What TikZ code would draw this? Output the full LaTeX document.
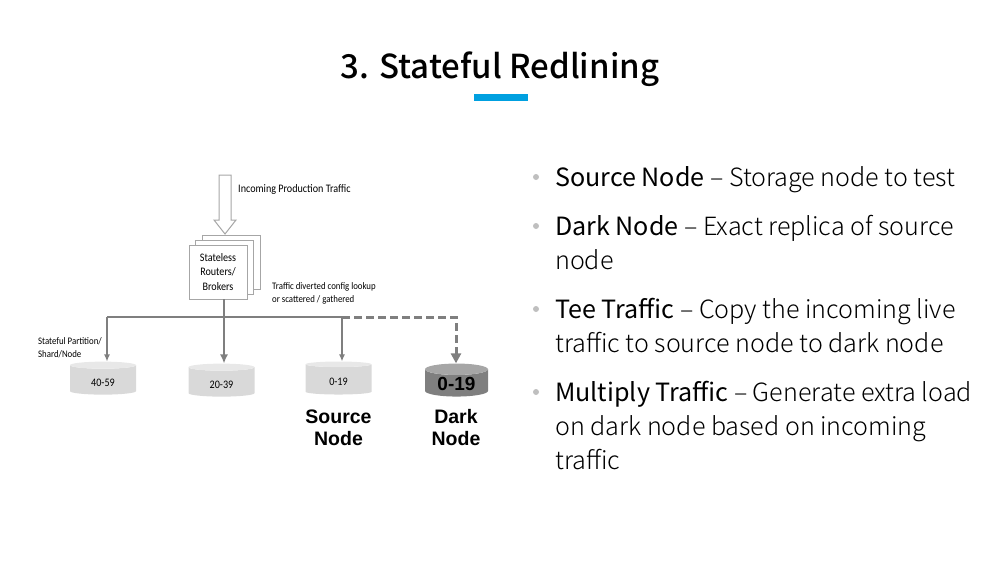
\documentclass[tikz,border=0pt]{standalone}
\usepackage{fontspec}
\usetikzlibrary{shapes.geometric,arrows.meta}
\setmainfont{Noto Sans CJK SC}
\newfontfamily\titlefont{Noto Sans CJK SC}[UprightFont=* Medium]
\newfontfamily\smallfont{Carlito}[FakeStretch=0.88]
\newfontfamily\labelfont{Liberation Sans}
\newfontfamily\bodyfont{Noto Sans CJK SC}[UprightFont=* Light]
\newcommand{\disklabel}[2][-6pt]{\raisebox{#1}[0pt][0pt]{#2}}
\definecolor{linegray}{HTML}{7F7F7F}
\definecolor{titleblue}{HTML}{00A0E0}
\definecolor{diskbody}{HTML}{D9D9D9}
\definecolor{disktop}{HTML}{E8E8E8}
\tikzset{
	box/.style={draw=gray!70, fill=white, minimum width=58, minimum height=54, inner sep=0, align=center, font=\smallfont\fontsize{11.5}{14.5}\selectfont},
	disk/.style={cylinder, shape border rotate=90, aspect=0.3, cylinder uses custom fill, minimum width=66, minimum height=33, inner sep=0, font=\smallfont\fontsize{11.5}{14}\selectfont},
	lightdisk/.style={disk, cylinder body fill=diskbody, cylinder end fill=disktop},
	note/.style={anchor=west, inner sep=0, align=left, font=\smallfont\fontsize{10}{13}\selectfont},
	caption/.style={align=center, inner sep=0, font=\labelfont\bfseries\fontsize{19.5}{22}\selectfont},
	bullet/.style={circle, fill=gray!50, minimum size=6, inner sep=0},
	item/.style={anchor=north west, inner sep=0, align=left, font=\bodyfont\fontsize{25.1}{34}\selectfont},
	flow/.style={draw=linegray, line width=1.2, -{Latex[length=7,width=6]}},
}
\begin{document}
\begin{tikzpicture}[x=1pt, y=-1pt]
	\useasboundingbox (0,0) rectangle (1000,563);
	% title
	\node[font=\titlefont\fontsize{33}{38}\selectfont, inner sep=0] (title) at (500,69) {3. Stateful Redlining};
	\fill[titleblue] (474,94) rectangle (527.5,101);
	% incoming arrow
	\filldraw[draw=gray!70, fill=white, line width=1] (219,175) -- (231,175) -- (231,220) -- (236,220) -- (225,234) -- (214,220) -- (219,220) -- cycle;
	\node[note, font=\smallfont\fontsize{11.5}{14}\selectfont] (incoming) at (238,189) {Incoming Production Traffic};
	% routers
	\node[box] (back) at (231,262.5) {};
	\node[box] (middle) at (224.5,267) {};
	\node[box] (router) at (218,272) {Stateless\\Routers/\\Brokers};
	\node[note] at (272,293.5) (diverted) {Traffic diverted config lookup\\or scattered / gathered};
	\node[note] (stateful) at (38,347.5) {Stateful Partition/\\Shard/Node};
	% partitions
	\node[lightdisk] (p1) at (103,380) {\disklabel{40-59}};
	\node[lightdisk] (p2) at (221.5,382) {\disklabel{20-39}};
	\node[lightdisk] (source) at (338.5,379.5) {\disklabel{0-19}};
	\node[disk, minimum width=63, cylinder body fill=linegray, cylinder end fill=black!35, font=\labelfont\bfseries\fontsize{19}{20}\selectfont] (dark) at (456.5,383) {\disklabel[-7.5pt]{0-19}};
	\node[caption] (sourcecap) at (338.5,428) {Source\\Node};
	\node[caption] (darkcap) at (456,428) {Dark\\Node};
	% traffic lines
	\coordinate (bus) at (224,317);
	\coordinate (left) at (107,317);
	\coordinate (mid) at (342,317);
	\coordinate (right) at (456,317);
	\draw[linegray, line width=1.5] (bus |- router.south) -- (bus);
	\draw[linegray, line width=2] (left) -- (mid);
	\draw[flow] (left) -- (left |- p1.north);
	\draw[flow, line width=1.5, -{Latex[length=9,width=8]}] (bus) -- (bus |- p2.north);
	\draw[flow] (mid) -- (mid |- source.north);
	\draw[linegray, line width=3, dash pattern=on 8 off 4, -{Triangle[length=10,width=10]}] (mid) -- (right) -- (right |- dark.north);
	% bullet points
	\node[bullet] (b1) at (536,177) {};
	\node[bullet] (b2) at (536,226) {};
	\node[bullet] (b3) at (536,309) {};
	\node[bullet] (b4) at (536,392) {};
	\node[item] (i1) at (555,166) {\textrm{Source Node} – Storage node to test};
	\node[item] (i2) at (555,215) {\textrm{Dark Node} – Exact replica of source\\node};
	\node[item] (i3) at (555,298) {\textrm{Tee Traffic} – Copy the incoming live\\traffic to source node to dark node};
	\node[item] (i4) at (555,381) {\textrm{Multiply Traffic} – Generate extra load\\on dark node based on incoming\\traffic};
\end{tikzpicture}
\end{document}
